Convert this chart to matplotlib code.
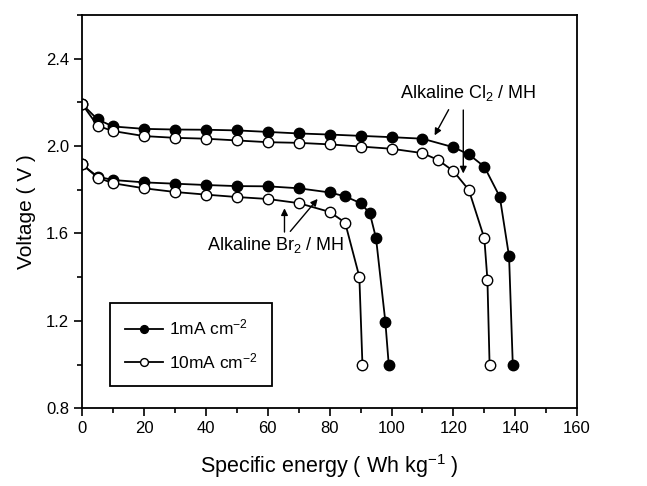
import numpy as np
import matplotlib.pyplot as plt

plt.rcParams['font.family'] = ['Liberation Sans', 'DejaVu Sans']
plt.rcParams['mathtext.fontset'] = 'custom'
plt.rcParams['mathtext.rm'] = 'Liberation Sans'
plt.rcParams['mathtext.default'] = 'regular'

# Alkaline Cl2 / MH
cl_1ma_x = [0, 5, 10, 20, 30, 40, 50, 60, 70, 80, 90, 100, 110, 120, 125, 130, 135, 138, 139.2]
cl_1ma_y = [2.192, 2.122, 2.09, 2.079, 2.076, 2.075, 2.072, 2.065, 2.058, 2.053, 2.047, 2.041,
            2.034, 1.995, 1.962, 1.906, 1.768, 1.495, 1.0]
cl_10ma_x = [0, 5, 10, 20, 30, 40, 50, 60, 70, 80, 90, 100, 110, 115, 120, 125, 130, 131, 131.7]
cl_10ma_y = [2.192, 2.093, 2.069, 2.046, 2.038, 2.034, 2.026, 2.018, 2.015, 2.008, 1.998, 1.988,
             1.968, 1.937, 1.886, 1.799, 1.578, 1.389, 1.0]

# Alkaline Br2 / MH
br_1ma_x = [0, 5, 10, 20, 30, 40, 50, 60, 70, 80, 85, 90, 93, 95, 98, 99.1]
br_1ma_y = [1.916, 1.86, 1.845, 1.834, 1.828, 1.822, 1.817, 1.816, 1.807, 1.788, 1.77, 1.739,
            1.692, 1.578, 1.197, 1.0]
br_10ma_x = [0, 5, 10, 20, 30, 40, 50, 60, 70, 80, 85, 89.6, 90.6]
br_10ma_y = [1.916, 1.856, 1.83, 1.807, 1.79, 1.778, 1.767, 1.758, 1.739, 1.699, 1.65, 1.402, 1.0]

labels = ['1mA cm$^{-2}$', '10mA cm$^{-2}$']

fig = plt.figure(figsize=(6.47, 4.86), dpi=100)
ax = fig.add_axes([0.127, 0.16, 0.765, 0.809])

filled = dict(color='k', lw=1.3, marker='o', ms=7.5, mfc='k', mec='k', mew=1.0)
hollow = dict(color='k', lw=1.3, marker='o', ms=7.5, mfc='w', mec='k', mew=1.0)

ax.plot(cl_1ma_x, cl_1ma_y, label=labels[0], **filled)
ax.plot(cl_10ma_x, cl_10ma_y, label=labels[1], **hollow)
ax.plot(br_1ma_x, br_1ma_y, **filled)
ax.plot(br_10ma_x, br_10ma_y, **hollow)

ax.set_xlim(0, 160)
ax.set_ylim(0.8, 2.6)
ax.set_xticks(np.arange(0, 161, 20))
ax.set_xticks(np.arange(0, 161, 10), minor=True)
ax.set_yticks([0.8, 1.2, 1.6, 2.0, 2.4])
ax.set_yticks(np.arange(0.8, 2.61, 0.2), minor=True)
ax.set_yticklabels(['0.8', '1.2', '1.6', '2.0', '2.4'])
ax.tick_params(direction='out', length=6, width=1.2, labelsize=12)
ax.tick_params(which='minor', direction='out', length=3.5, width=1.2)
for s in ax.spines.values():
    s.set_linewidth(1.3)

ax.set_xlabel('Specific energy ( Wh kg$^{-1}$ )', fontsize=15.5, labelpad=11)
ax.set_ylabel('Voltage ( V )', fontsize=15, labelpad=7)

# annotations
ax.text(102.8, 2.245, 'Alkaline Cl$_2$ / MH', fontsize=13, va='center', ha='left')
arr = dict(arrowstyle='-|>', color='k', lw=1.0, mutation_scale=10)
ax.annotate('', xy=(113.5, 2.038), xytext=(118.9, 2.178), arrowprops=arr)
ax.annotate('', xy=(123.2, 1.862), xytext=(123.2, 2.178), arrowprops=arr)

ax.text(40.3, 1.548, 'Alkaline Br$_2$ / MH', fontsize=13, va='center', ha='left')
ax.annotate('', xy=(65.4, 1.728), xytext=(65.4, 1.594), arrowprops=arr)
ax.annotate('', xy=(76.7, 1.768), xytext=(66.7, 1.6), arrowprops=arr)

leg = ax.legend(loc='lower left', bbox_to_anchor=(0.057, 0.056), borderaxespad=0,
                fontsize=12.5, frameon=True, fancybox=False,
                edgecolor='k', framealpha=1, handlelength=2.2, handletextpad=0.3,
                borderpad=0.85, labelspacing=0.8, markerscale=0.75)
leg.get_frame().set_linewidth(1.3)

fig.savefig('out.png', dpi=100)
